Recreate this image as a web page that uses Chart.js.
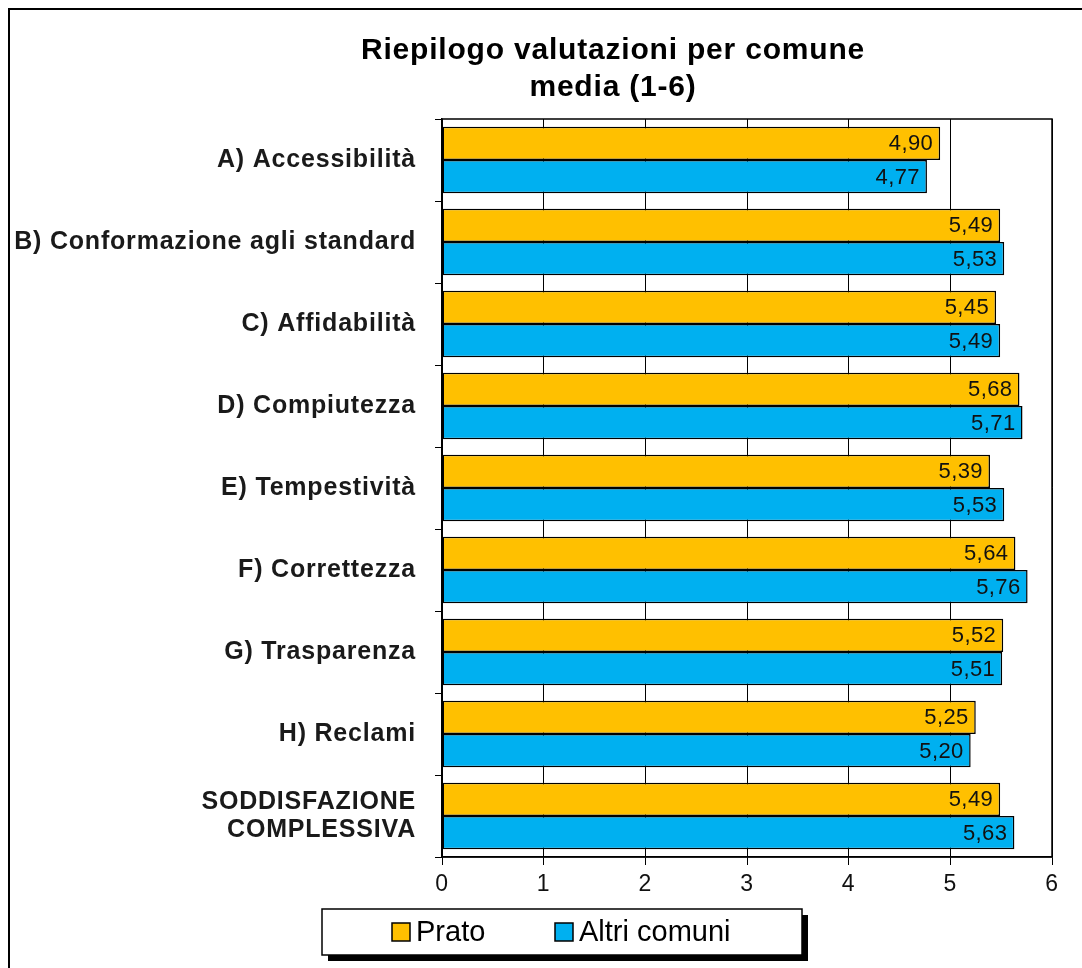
<!DOCTYPE html>
<html>
<head>
<meta charset="utf-8">
<script src="https://cdn.jsdelivr.net/npm/chart.js@4/dist/chart.umd.min.js"></script>
<style>
  html, body { margin: 0; padding: 0; background: #fff; }
  #wrap { width: 1082px; height: 968px; position: relative; }
</style>
</head>
<body>
<div id="wrap"><canvas id="c" width="1082" height="968"></canvas></div>
<script>
const titleLines = ["Riepilogo valutazioni per comune", "media (1-6)"];
const categories = [
  "A) Accessibilità",
  "B) Conformazione agli standard",
  "C) Affidabilità",
  "D) Compiutezza",
  "E) Tempestività",
  "F) Correttezza",
  "G) Trasparenza",
  "H) Reclami",
  ["SODDISFAZIONE", "COMPLESSIVA"]
];
const seriesNames = ["Prato", "Altri comuni"];
const pratoValues = [4.90, 5.49, 5.45, 5.68, 5.39, 5.64, 5.52, 5.25, 5.49];
const altriValues = [4.77, 5.53, 5.49, 5.71, 5.53, 5.76, 5.51, 5.20, 5.63];
const xTicks = [0, 1, 2, 3, 4, 5, 6];

const colors = ["#FFC000", "#00B0F0"];
const FONT = "'Liberation Sans', Arial, Helvetica, sans-serif";

const decoPlugin = {
  id: 'deco',
  beforeDraw(chart) {
    const ctx = chart.ctx;
    ctx.save();
    ctx.fillStyle = '#fff';
    ctx.fillRect(0, 0, chart.width, chart.height);
    // outer frame
    ctx.strokeStyle = '#000';
    ctx.lineWidth = 2;
    ctx.strokeRect(9, 9, chart.width + 20, chart.height + 20);
    // title
    ctx.fillStyle = '#000';
    ctx.font = "bold 30px " + FONT;
    ctx.letterSpacing = '0.8px';
    ctx.textAlign = 'center';
    ctx.textBaseline = 'middle';
    ctx.fillText(titleLines[0], 613, 51);
    ctx.fillText(titleLines[1], 613, 88);
    ctx.restore();
    // spacing used by the axis labels
    ctx.letterSpacing = '0.8px';
  },
  beforeDatasetsDraw(chart) {
    const ctx = chart.ctx, a = chart.chartArea;
    ctx.save();
    ctx.strokeStyle = '#000';
    ctx.lineWidth = 1.5;
    ctx.strokeRect(a.left, a.top, a.right - a.left, a.bottom - a.top);
    ctx.restore();
  },
  afterDatasetsDraw(chart) {
    const ctx = chart.ctx;
    ctx.save();
    ctx.letterSpacing = '0.4px';
    ctx.font = "22px " + FONT;
    ctx.fillStyle = '#111';
    ctx.textAlign = 'right';
    ctx.textBaseline = 'middle';
    chart.data.datasets.forEach((ds, di) => {
      const meta = chart.getDatasetMeta(di);
      meta.data.forEach((bar, i) => {
        const txt = ds.data[i].toFixed(2).replace('.', ',');
        ctx.fillText(txt, bar.x - 7, bar.y + 1);
      });
    });
    ctx.restore();
  },
  afterDraw(chart) {
    const ctx = chart.ctx;
    ctx.save();
    ctx.letterSpacing = '0px';
    const bx = 322, by = 909, bw = 480, bh = 46;
    // shadow
    ctx.fillStyle = '#000';
    ctx.fillRect(bx + 6, by + 6, bw, bh);
    ctx.fillStyle = '#fff';
    ctx.fillRect(bx, by, bw, bh);
    ctx.strokeStyle = '#000';
    ctx.lineWidth = 1.5;
    ctx.strokeRect(bx, by, bw, bh);
    const items = [
      { sx: 392, tx: 416 },
      { sx: 555, tx: 579 }
    ];
    ctx.font = "29px " + FONT;
    ctx.textAlign = 'left';
    ctx.textBaseline = 'middle';
    items.forEach((it, i) => {
      ctx.fillStyle = colors[i];
      ctx.fillRect(it.sx, by + 14, 18, 18);
      ctx.lineWidth = 1.5;
      ctx.strokeStyle = '#000';
      ctx.strokeRect(it.sx, by + 14, 18, 18);
      ctx.fillStyle = '#000';
      ctx.fillText(seriesNames[i], it.tx, by + 24);
    });
    ctx.restore();
  }
};

new Chart(document.getElementById('c'), {
  type: 'bar',
  data: {
    labels: categories,
    datasets: [
      { label: seriesNames[0], data: pratoValues, backgroundColor: colors[0] },
      { label: seriesNames[1], data: altriValues, backgroundColor: colors[1] }
    ]
  },
  options: {
    indexAxis: 'y',
    responsive: false,
    animation: false,
    devicePixelRatio: 1,
    layout: { padding: { left: 0, right: 30, top: 119, bottom: 61 } },
    datasets: {
      bar: {
        categoryPercentage: 0.81,
        barPercentage: 1.0,
        borderColor: '#000',
        borderWidth: 1.5,
        borderSkipped: false
      }
    },
    plugins: {
      legend: { display: false },
      title: { display: false },
      tooltip: { enabled: false }
    },
    scales: {
      x: {
        type: 'linear',
        min: 0,
        max: 6,
        afterFit(scale) { scale.height = 50; },
        afterBuildTicks(scale) { scale.ticks = xTicks.map(v => ({ value: v })); },
        grid: { color: '#000', lineWidth: 1, tickLength: 8, drawOnChartArea: true },
        border: { color: '#000', width: 1.5 },
        ticks: {
          color: '#111',
          font: { family: FONT, size: 23 },
          padding: 6,
          maxRotation: 0
        }
      },
      y: {
        type: 'category',
        offset: true,
        afterFit(scale) { scale.width = 442; },
        grid: { offset: true, drawOnChartArea: false, color: '#000', lineWidth: 1, tickLength: 7 },
        border: { color: '#000', width: 1.5 },
        ticks: {
          color: '#1a1a1a',
          font: { family: FONT, size: 25, weight: 'bold', lineHeight: 1.15 },
          padding: 19,
          crossAlign: 'near'
        }
      }
    }
  },
  plugins: [decoPlugin]
});
</script>
</body>
</html>
